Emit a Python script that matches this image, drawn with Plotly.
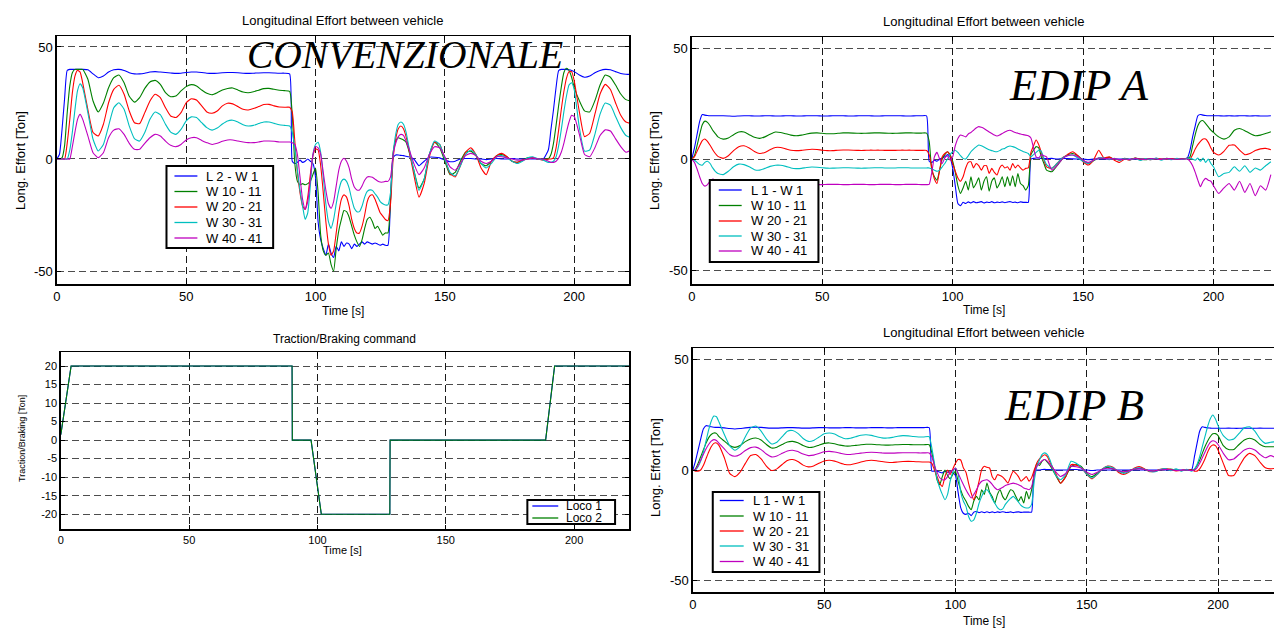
import sys
import plotly.graph_objects as go

# ---------------- time grid (s) shared by the effort plots ----------------
T = [0, 1, 2, 3, 4, 5, 6, 7, 8, 9, 10,
     12, 14, 16, 18, 20, 22, 24, 26, 28, 30, 32, 34, 36, 38, 40, 42, 44, 46, 48, 50,
     52, 54, 56, 58, 60, 62, 64, 66, 68, 70, 72, 74, 76, 78, 80, 82, 84, 86, 88, 90,
     91, 92, 93, 94, 95, 96, 97, 98, 99, 100, 101, 102, 103, 104, 105, 106, 107, 108, 109, 110,
     111, 112, 113, 114, 115, 116, 117, 118, 119, 120, 121, 122, 123, 124, 125, 126, 127, 128, 129, 130,
     131, 132, 133, 134, 135, 136,
     138, 140, 142, 144, 146, 148, 150, 152, 154, 156, 158, 160, 162, 164, 166, 168, 170, 172, 174, 176,
     178, 180, 182, 184, 186, 188, 190,
     191, 192, 193, 194, 195, 196, 197, 198, 199, 200,
     202, 204, 206, 208, 210, 212, 214, 216, 218, 220, 222]

# ---------------- CONVENZIONALE ----------------
conv_L2W1 = [0, 2, 13, 27, 39.5, 40, 40, 40, 40, 40, 40,
             39.8, 38, 36.3, 37, 38.8, 39.8, 40, 39.5, 38.5, 38,
             38, 38.3, 38.8, 39, 38.8, 38.6, 38.4, 38.2, 38.3, 38.6,
             38.8, 38.8, 38.6, 38.3, 38.2, 38.3, 38.5, 38.6, 38.6, 38.5,
             38.3, 38.2, 38.3, 38.4, 38.5, 38.5, 38.4, 38.3, 38.3, 38,
             -1, -2, -1.5, -0.5, -1.5, -1, 0, -1, -2, -8,
             -28, -36, -40, -43, -38, -42, -44, -39, -41, -37,
             -39, -37.5, -38, -40, -38, -39, -38, -37, -38, -37,
             -37.5, -38, -37.5, -38, -38.5, -38, -38.5, -38.5, -18, 0.5,
             1.8, 1.8, 1.6, 1.5, 1.2, 1,
             0, -3, -1, 0.8, 0.8, 0.5, -0.5, -1.2, -1, 0,
             0.2, 0.2, 0, 0, -0.3, 0, 0.2, 0, 0, 0.2,
             0, 0, 0.1, 0, 0, 0, 4,
             13, 22, 32, 39.5, 40, 40, 40, 39.8, 39.5, 39,
             37.5, 36.5, 37, 38.5, 39.5, 40, 39.8, 39, 38.2, 37.8, 37.8]
conv_W10 = [0, 0, 0.5, 6, 20.5, 32.5, 38.5, 40, 40, 40, 40,
            35.6, 25.9, 21, 25, 31.8, 36.3, 37.5, 34, 28, 25.4,
            27.4, 31.5, 34.4, 35.1, 33.3, 29.6, 27.8, 28.1, 30.4, 32.3,
            33.2, 32.6, 30.8, 29.3, 28.7, 29.6, 30.8, 31.5, 31.7, 30.8,
            29.9, 29.6, 30, 30.7, 31.4, 31.5, 31.1, 30.7, 30.5, 30.2,
            20, -2, -10, -11.5, -11, -11.5, -11, -10, -7, -4,
            -15, -34, -41, -43, -42, -47, -50, -40, -32, -27,
            -23, -23.5, -26, -30, -34, -37, -39, -36, -31, -27,
            -26, -28, -31, -30, -32, -34, -33, -33, -18, 3,
            8, 9.5, 9, 8.5, 7.5, 4,
            -5, -13, -9, 2, 7.5, 5, -1, -7, -6, -1,
            3, 3.5, 1.5, -2, -3, -1, 1.5, 2, 1, -1,
            -1.5, -0.5, 0.5, 0.5, 0, 0, 0,
            2, 7, 15, 24, 32, 38.5, 40.5, 39.5, 36.5, 32,
            26, 21.5, 21, 26, 33, 37.5, 36.5, 33, 29, 26.5, 25.8]
conv_W20 = [0, 0, 0, 0, 7, 17.5, 29.5, 37, 39.6, 38.8, 34,
            22, 11.8, 10.3, 15.5, 25.1, 31.1, 32.9, 28.9, 21.4, 16.2,
            15.8, 20.7, 25.9, 28.9, 27.4, 22.9, 19.2, 18.5, 20.7, 25.1,
            26.9, 26.3, 23.7, 21, 20.4, 21.4, 23.7, 24.9, 24.6, 23.4,
            22.2, 21.9, 22.5, 23.4, 24.3, 24.4, 23.7, 23.2, 23.1, 23.1,
            21, 8, -6, -15, -21, -22.5, -17, -7, 1.5, 4.5,
            4, -3, -15, -28, -38, -43, -41, -33, -24, -18,
            -16, -17, -21, -27, -31, -33, -33, -30, -25, -19,
            -16.5, -16, -18, -21, -24, -25.5, -27, -27.5, -20, 0,
            9, 13.5, 14.7, 13.5, 10, 5,
            -7, -17, -11, 1, 7.5, 6.5, 0, -6.5, -8, -3,
            3, 5, 2, -4, -7, -1, 1.5, 2.5, 1, -1,
            -1.5, -0.5, 0, 0.5, 0, -0.5, 0,
            0, 0.5, 5, 13, 22, 30, 36, 39, 39, 35,
            21, 10, 11.5, 20, 29, 33.3, 31, 25, 19.5, 16.5, 15.8]
conv_W30 = [0, 0, 0, 0, 0, 4, 12, 22, 30.5, 33.6, 31.8,
            20.7, 8.8, 3.6, 6.5, 14.7, 22.9, 25.1, 22.2, 14.7, 9.1,
            8, 11.8, 17.7, 21, 19.8, 15.5, 12, 11, 13.2, 17,
            18.8, 18.5, 16.2, 14, 12.9, 13.8, 15.6, 17, 17.3, 16.5,
            15.3, 14.7, 15, 15.8, 16.5, 16.5, 15.9, 15.3, 15, 14.7,
            12, 5, -5, -14, -21, -27, -24, -12, 2, 6.5,
            7.5, 3, -8, -20, -28, -31, -27, -20, -14, -10,
            -9, -10, -13, -18, -22, -23.5, -23.5, -21, -17, -14.5,
            -13.8, -14, -15.5, -17, -19, -20, -20.5, -20.5, -15, 2,
            11, 15.5, 16.5, 15.5, 12, 6,
            -5, -14, -9, 2, 8, 6.5, 0, -6, -7.5, -3,
            2, 4, 2, -2, -4, -2, 1, 1.5, 0.5, -1,
            -2, -1, 0.5, 1, 0, -0.5, -1.5,
            -1.5, -1, 1, 6, 13, 21, 28, 33, 34, 31,
            14, 3.5, 4, 11, 20, 25, 24, 19, 14, 10.5, 9.5]
conv_W40 = [0, 0, 0, 0, 0, 0, 5.5, 12, 17.7, 19.9, 17.7,
            10.3, 2.8, 0.6, 2.8, 9.5, 12.9, 13.5, 11, 7, 4.3,
            4.3, 7, 9.5, 11, 10.3, 8, 6.1, 5.5, 6.5, 8.5,
            9.5, 9.5, 8.3, 7.3, 6.5, 7, 7.9, 8.5, 8.5, 8,
            7.6, 7.3, 7.3, 7.6, 8, 8, 7.9, 7.6, 7.6, 7.6,
            7.3, 6.5, 2, -8, -18, -22.5, -19, -9, 2, 5.5,
            5, 2, -6, -14, -20, -22, -19, -12, -5, -1,
            0.3, -1, -4, -9, -12.5, -13.8, -13.8, -12, -9.5, -8,
            -7.9, -8.2, -9, -9.8, -10.3, -10.3, -10, -10, -8, 2,
            7, 10, 11, 10.5, 8, 5,
            -2, -7, -4, 2, 5.5, 5, 1, -3.5, -5, -2,
            1.5, 2.5, 1.5, -1, -2, -1, 1, 1, 0.5, 0,
            -0.5, -0.5, 0, 0.5, 0, 0, -1,
            -1.5, -1.5, -1, 0.5, 3, 7, 12, 16.5, 19.5, 19,
            11, 2, 1, 5, 10.5, 13, 12.5, 9, 5.5, 3, 4]

# ---------------- EDIP A ----------------
a_L1W1 = [0, 5, 11, 17, 20.1, 19.8, 19.6, 19.5, 19.5, 19.5, 19.5,
          19.5, 19.4, 19.3, 19.4, 19.5, 19.5, 19.4, 19.4, 19.5, 19.5,
          19.4, 19.4, 19.5, 19.5, 19.4, 19.4, 19.5, 19.5, 19.5, 19.4,
          19.4, 19.5, 19.5, 19.5, 19.4, 19.4, 19.5, 19.5, 19.5, 19.4,
          19.4, 19.5, 19.5, 19.5, 19.5, 19.4, 19.4, 19.5, 19.5, 19.5,
          -1, -1.5, -0.5, -1, 0, 0.5, 1, 2, 1, -4,
          -12, -20, -21, -19.5, -20, -19.3, -19.8, -19.2, -19.7, -19.5,
          -19.2, -19.8, -19.4, -19.6, -19.2, -19.7, -19.4, -19.6, -19.3, -19.7,
          -19.4, -19.2, -19.6, -19.4, -19.7, -19.3, -19.5, -19.5, -19.5, 0,
          0.3, 0.5, 0.5, 0.3, 0.3, 0.2,
          0.3, 0, 0.2, 0.2, 0.1, 0, 0, -0.3, 0, 0,
          0, 0, 0, 0, 0, 0, 0, 0, 0, 0,
          0, 0, 0, 0, 0, 0, 0.5,
          4, 10, 15, 19.5, 20.1, 19.8, 19.6, 19.5, 19.5, 19.5,
          19.5, 19.4, 19.5, 19.4, 19.5, 19.5, 19.4, 19.5, 19.4, 19.4, 19.5]
a_W10 = [0, 1.5, 6, 11, 15.5, 17.1, 16.5, 15, 13, 11.5, 10,
         9, 9.5, 11, 12.2, 12.2, 11, 9.8, 9.3, 10, 11.2,
         12.2, 12, 11.4, 10.8, 10.5, 10.8, 11.3, 11.7, 11.8, 11.6,
         11.4, 11.4, 11.6, 11.8, 11.8, 11.7, 11.6, 11.6, 11.7, 11.8,
         11.8, 11.7, 11.6, 11.6, 11.7, 11.8, 11.8, 11.7, 11.7, 11.7,
         8, -5, -8, -9.5, -5, 0, 2, 3.3, 2, -1,
         -6, -12, -15.5, -13, -10, -14, -8, -13, -11, -8.5,
         -14, -10, -8, -14.5, -10, -8.5, -13, -11, -8, -12.5,
         -8, -12, -7.5, -12.5, -6.5, -11, -12, -14, -12, 2,
         4, 5.6, 5, 1, -2, -5,
         -5.7, -3, 0, 1.8, 2.5, 1.5, -0.5, -2, -0.8, 0.5,
         0.3, 0.8, 0, -0.5, 0.3, -0.2, 0.4, 0, -0.3, 0.2,
         0, -0.2, 0.3, 0, -0.2, 0, 0.3,
         1, 6, 11, 15, 17, 17.3, 16, 14.5, 13, 12,
         10, 9, 10, 13, 13.8, 12.8, 11.5, 10.5, 10.8, 11.5, 12.3]
a_W20 = [0, 1, 3.5, 6, 8.3, 9, 8, 6.2, 4.2, 2.5, 1.2,
         0.3, 1.5, 3.8, 5.6, 6, 5, 3.4, 2.5, 3, 4.2,
         5.2, 5.2, 4.6, 4, 3.8, 3.9, 4.2, 4.4, 4.3, 4,
         3.8, 3.8, 4, 4.1, 4.1, 4, 3.9, 3.9, 4, 4,
         4, 3.9, 3.9, 3.9, 4, 4, 4, 3.9, 3.9, 3.9,
         2, -4, -9, -11, -5, 1, 2.5, 3.3, 1.5, -2,
         -5.5, -8.5, -10, -8, -4, -1.5, -1.2, -4, -2, -3,
         -5, -3, -3, -6.5, -4.2, -6, -7.2, -4, -2.7, -4,
         -3.5, -5, -2, -4, -2.7, -4, -5, -4.2, -4, 3,
         6, 8.6, 6.5, 3, -0.5, -3.5,
         -4.2, -2, 0.5, 2, 3.3, 1.5, -1.2, -2.7, -0.5, 4,
         0.5, 1, -0.5, -1.5, 0, -0.5, 0.5, -0.3, 0.2, -0.3,
         0.3, 0, -0.2, 0.2, 0, 0, 0.3,
         0, 2, 4.5, 6.5, 8, 9, 9, 7.5, 5, 3,
         1.8, 3.5, 6.2, 6.3, 4, 2, 2.5, 3.8, 4.6, 4.8, 4.2]
a_W30 = [0, -0.5, -1.5, -2.5, -2.8, -1.5, -1, -2, -4, -5.5, -6.5,
         -7, -5.5, -3.5, -2.3, -2.5, -3.5, -4.8, -5, -4.2, -3.3,
         -2.8, -2.8, -3.3, -4, -4.3, -4.2, -3.8, -3.6, -3.7, -3.9,
         -4.1, -4.1, -4, -3.9, -3.9, -4, -4.1, -4.1, -4, -3.9,
         -3.9, -4, -4, -4, -3.9, -3.9, -4, -4, -4, -4,
         -4, -4.5, -5, -5.5, -5, -3.5, -2, 0, 2, 3.3,
         4, 3, 1.5, 0.3, 0, 1.5, 3.3, 4.5, 5.5, 6.3,
         6, 5.4, 4.8, 4.2, 3.8, 3.4, 3.3, 3.8, 4.5, 4.8,
         5.5, 5.9, 5.6, 5.2, 4.5, 4, 3.4, 3, 2.5, 1,
         2, 3, 4, 3.5, 0, -2.5,
         -4.2, -2, 0.5, 1.5, 1.8, 0.5, -1, -2, -0.5, 0.5,
         0.5, -0.3, 0.3, -0.5, 0.2, -0.4, 0.3, -0.6, 0.2, -0.3,
         0.4, -0.5, 0.2, -0.3, 0.3, -0.2, 0.3,
         0.3, 0, -0.5, 0.5, -1, 0.5, -1.5, 0, -2, -3.5,
         -8, -6.5, -6, -3.5, -5.5, -3, -6, -4, -5, -3, -1.2]
a_W40 = [0, -1.5, -4.5, -8, -11, -12.2, -11.5, -10, -9, -9.5, -10.5,
         -11.5, -11.5, -11.2, -11, -11.2, -11.5, -11.7, -11.5, -11.3, -11.2,
         -11.3, -11.4, -11.5, -11.5, -11.4, -11.3, -11.3, -11.4, -11.5, -11.5,
         -11.4, -11.4, -11.4, -11.5, -11.5, -11.4, -11.4, -11.4, -11.5, -11.5,
         -11.4, -11.4, -11.4, -11.5, -11.5, -11.4, -11.4, -11.4, -11.5, -11.5,
         -11.4, -6, 1, 3, 0, -2, 0.5, 1.5, -0.5, 1,
         6, 9.3, 10.8, 10.5, 10, 11.3, 12, 13, 14, 14.6,
         14.3, 13.8, 13, 12.2, 11.5, 10.8, 10.4, 10.8, 11.5, 12.2,
         12.8, 13, 12.5, 12, 11.6, 11.3, 11, 10.8, 10.5, 9.5,
         5, 1, 0.5, 2, 1.5, 1,
         -5, -3, 0, 1.5, 1.8, 1, -0.5, -1.5, -0.5, 0.5,
         0.3, 0, 0.2, -0.3, 0, -0.2, 0.2, 0, -0.2, 0.2,
         0, -0.2, 0.2, 0, -0.1, 0, 0,
         -1, -3, -6, -9.5, -12.5, -10, -8.7, -9.5, -10, -12,
         -15.5, -13, -11, -14, -10, -15, -11, -16.5, -12, -14, -7]

# ---------------- EDIP B ----------------
b_L1W1 = [0, 4, 9, 14, 18.5, 20, 19.8, 19.5, 19.3, 19.2, 19.2,
          19, 18.7, 18.5, 18.7, 19, 19.2, 19.3, 19.2, 19, 18.9,
          18.9, 19, 19.1, 19.1, 19, 18.9, 18.9, 19, 19.1, 19.1,
          19, 19, 19, 19.1, 19.1, 19, 19, 19, 19.1, 19.1,
          19.1, 19, 19, 19.1, 19.1, 19.1, 19.1, 19.1, 19.1, 19.1,
          -0.5, -0.5, -0.5, -1, -1.3, -0.5, -1, -0.8, -1.2, -2.5,
          -10, -17, -19.5, -20, -19.5, -20.6, -19, -18.7, -19.2, -18.8,
          -19.2, -18.8, -19.2, -18.9, -19.2, -18.9, -19.1, -18.8, -19.1, -19.1,
          -18.9, -19.2, -19, -18.9, -19.1, -19, -19, -19, -19, -1,
          0, 0, 0.2, 0.3, 0.2, 0.2,
          0, 0, 0, 0.2, 0.2, 0, 0, -0.2, 0, 0,
          0, 0, 0, 0, 0, 0, 0, 0, 0, 0,
          0, 0, 0, 0, 0, 0, 0.3,
          6, 12, 17.5, 19.5, 19.2, 19, 18.9, 18.8, 18.8, 18.8,
          18.8, 18.9, 18.8, 18.8, 18.9, 18.8, 18.8, 18.9, 18.8, 18.8, 18.8]
b_W10 = [0, 0.5, 3, 6, 9, 12, 14.5, 16, 16.7, 16.5, 15,
         13, 11, 10.2, 11, 12.8, 14, 14.4, 13.5, 11.5, 9.9,
         10.3, 11.5, 12.6, 12.9, 12.3, 11, 10.2, 10.4, 11.2, 12,
         12.2, 11.8, 11.2, 10.8, 10.8, 11.1, 11.4, 11.6, 11.6, 11.4,
         11.3, 11.2, 11.3, 11.4, 11.5, 11.5, 11.4, 11.4, 11.4, 11.4,
         8, 2, -4.4, -6.6, -3, 0, -2.5, -4, -2, -0.6,
         -5, -9, -12, -14, -16.4, -17.9, -14, -11.9, -13.5, -8.9,
         -11, -5.9, -10, -12, -14.9, -11, -8.9, -12, -13.4, -11,
         -8.9, -9.5, -12, -14.1, -12, -14.9, -9.6, -13, -9, -2,
         3, 2, 4, 4.7, 3.5, 2,
         -2, -5.9, -3, 1.5, 2.5, 1.5, -1.5, -3, -1.5, 0.5,
         1.2, 0.5, -0.5, -1, -0.3, 0.3, 0.8, 0.3, -0.4, -0.6,
         0, 0.2, 0.4, 0, -0.3, 0, 0,
         0.3, 2, 4.5, 7.5, 10.5, 13, 15, 16.3, 16.4, 15.5,
         11, 9.2, 9.2, 11.5, 13.5, 14.3, 13.5, 11.5, 10.5, 10.5, 10.5]
b_W20 = [0, -0.5, -0.5, 0, 2, 5, 8, 10.5, 12, 12.2, 11,
         5.5, -1.5, -3, -1, 3, 6.5, 7, 5, 1.8, -0.2,
         0.5, 2.5, 4.3, 4.7, 3.8, 2.2, 1.4, 1.8, 3, 4.1,
         4.4, 4, 3.2, 2.5, 2.4, 2.9, 3.6, 4.2, 4.4, 4.2,
         3.8, 3.5, 3.4, 3.6, 3.8, 3.9, 3.8, 3.7, 3.6, 3.6,
         3, 0, -2.9, -6, -7.4, -3, 0, -2, 0.5, 3,
         4.7, 4.5, 1, -1, -6, -10.5, -13.4, -10, -5, 0.2,
         1.7, 1.2, 0.9, -3, -4.4, -2.1, -2.5, -3.2, -4.5, -5.9,
         -3, -0.6, -1.5, -3, -5.1, -4, -2.9, -5, -3.5, 0,
         3.2, 5, 6.2, 6.9, 6, 3.5,
         -1, -6, -3, 2.4, 2.2, 1, -2, -4, -2, 0.5,
         1.8, 1.2, -1, -2, -1, 0.8, 1.5, 0.5, -0.8, -0.5,
         0.3, 0.6, 0.2, -0.4, -0.2, 0.2, 0,
         -0.5, -0.5, 0.5, 2.5, 5, 8, 10.3, 11.3, 11, 9,
         3, -2.5, -2.5, 1.5, 5.5, 7.5, 6.5, 3.5, 1, 0.5, 0.8]
b_W30 = [0, 0, 1.5, 4, 8, 13, 18, 22, 24.3, 24, 21.5,
         16, 11, 8.9, 10.5, 15, 19, 19.8, 17.5, 14, 11.7,
         12.5, 15, 17.5, 17.8, 16.5, 14.2, 12.9, 13.3, 14.8, 16.3,
         16.7, 16.2, 15, 14.1, 14.3, 15, 15.7, 15.9, 15.6, 15,
         14.5, 14.4, 14.7, 15.2, 15.5, 15.4, 15.1, 14.9, 14.9, 15,
         10, 3, -4, -8, -11, -13.4, -11, -5, -1, 0.9,
         -1.5, -10, -14, -16.4, -21, -23.1, -22.5, -19.4, -15, -11.9,
         -9.5, -8.9, -10.5, -13, -15, -17, -17.9, -17.5, -15.5, -14,
         -12.8, -11.9, -13, -14.5, -16, -16.8, -17.1, -17, -15.5, -5,
         1.5, 4.5, 7, 7.7, 6.9, 4.5,
         -2, -4.4, -2, 3.9, 3, 1, -2, -3.6, -2, 0.5,
         1.7, 1, -0.5, -1.5, -0.8, 0.5, 1, 0.3, -0.6, -0.8,
         0.2, 0.6, -0.3, 0.5, -0.5, 0.3, -0.5,
         0.5, 2.5, 6, 10.5, 15, 19.5, 23, 24.8, 23, 20,
         15.5, 13.5, 14, 16.5, 19, 19.5, 17.5, 14, 12, 12.5, 12.8]
b_W40 = [0, 0.3, 2, 4.5, 7, 9.5, 11.5, 13, 13.7, 13.3, 12,
         9.5, 7, 6.2, 7, 8.8, 10.1, 10.3, 9.2, 7.2, 5.9,
         6.3, 7.5, 8.6, 8.9, 8.3, 7.2, 6.5, 6.7, 7.4, 8.2,
         8.4, 8.1, 7.6, 7.1, 7, 7.3, 7.6, 7.9, 8, 7.9,
         7.7, 7.6, 7.6, 7.7, 7.8, 7.8, 7.8, 7.7, 7.7, 7.7,
         6, 2, -1, -3.5, -4.4, -4.4, -3, -1, 0, 0.9,
         -1.5, -4, -6.5, -8.9, -11, -12.6, -11, -8.9, -6.5, -5.1,
         -4.6, -4.4, -5.2, -6.5, -8, -8.9, -8.5, -7.8, -7, -6.6,
         -6.2, -5.9, -6.2, -6.6, -7.2, -8.1, -8.5, -8.9, -7.5, -2,
         1.7, 3, 4.2, 4.7, 4, 2.5,
         -0.5, -2.9, -1.5, 1.7, 1.5, 0.8, -1, -2, -1, 0.3,
         0.8, 0.5, -0.3, -0.8, -0.4, 0.3, 0.6, 0.2, -0.3, -0.4,
         0, 0.3, 0.1, -0.2, -0.1, 0, -0.2,
         0, 1, 3, 5.5, 8, 10.5, 12.5, 13.2, 12.8, 11.5,
         7.5, 4.6, 5, 7, 9, 9.8, 9, 7, 5.5, 6.5, 5.5]

# ---------------- Traction / braking command ----------------
cmd_t = [0, 4, 90.1, 90.2, 97.5, 101.5, 128.2, 128.3, 188.9, 192.4, 221.4]
loco1 = [1.5, 20, 20, 0, 0, -20, -20, 0, 0, 20, 20]
loco2 = [1.5, 20, 20, 0, 0, -20, -20, 0, 0, 20, 20]

conv_names = ["L 2 - W 1", "W 10 - 11", "W 20 - 21", "W 30 - 31", "W 40 - 41"]
edip_names = ["L 1 - W 1", "W 10 - 11", "W 20 - 21", "W 30 - 31", "W 40 - 41"]
cmd_names = ["Loco 1", "Loco 2"]
COLORS = ["#0000ff", "#008000", "#ff0000", "#00bfbf", "#bf00bf"]

SANS = "Liberation Sans, Arial, sans-serif"
SERIF = "Liberation Serif, Times New Roman, serif"
W, H = 1274, 630


def fx(p):
    return p / W


def fy(p):
    return 1 - p / H


fig = go.Figure()


def add_group(series, names, xa, ya):
    for s, name, col in zip(series, names, COLORS):
        n = min(len(T), len(s))
        if len(s) != len(T):
            print("length mismatch", name, xa, len(s), len(T), file=sys.stderr)
        fig.add_trace(go.Scatter(x=T[:n], y=s[:n], mode="lines", name=name, showlegend=False,
                                 line=dict(color=col, width=1.1, shape="spline", smoothing=0.5),
                                 xaxis=xa, yaxis=ya))


add_group([conv_L2W1, conv_W10, conv_W20, conv_W30, conv_W40], conv_names, "x", "y")
add_group([a_L1W1, a_W10, a_W20, a_W30, a_W40], edip_names, "x2", "y2")
add_group([b_L1W1, b_W10, b_W20, b_W30, b_W40], edip_names, "x4", "y4")

fig.add_trace(go.Scatter(x=cmd_t, y=loco1, mode="lines", name="Loco 1", showlegend=False,
                         line=dict(color="#0000ff", width=1.1), xaxis="x3", yaxis="y3"))
fig.add_trace(go.Scatter(x=cmd_t, y=loco2, mode="lines", name="Loco 2", showlegend=False,
                         line=dict(color="#008000", width=1.1), xaxis="x3", yaxis="y3"))

XT = [0, 50, 100, 150, 200]


def xax(dom, rng, anchor, fs=13):
    return dict(domain=dom, range=rng, anchor=anchor, tickvals=XT, ticktext=[str(v) for v in XT],
                showline=True, linecolor="black", linewidth=1.5, mirror="ticks",
                ticks="inside", ticklen=4, tickcolor="black",
                showgrid=True, gridcolor="#1a1a1a", gridwidth=1, griddash="7px,4px",
                zeroline=False, tickfont=dict(size=fs, color="black", family=SANS), fixedrange=True)


def yax(dom, rng, anchor, vals, mirror="ticks", fs=13):
    return dict(domain=dom, range=rng, anchor=anchor, tickvals=vals, ticktext=[str(v) for v in vals],
                showline=True, linecolor="black", linewidth=1.5, mirror=mirror,
                ticks="inside", ticklen=4, tickcolor="black",
                showgrid=True, gridcolor="#4d4d4d", gridwidth=1, griddash="7px,4px",
                zeroline=False, tickfont=dict(size=fs, color="black", family=SANS), fixedrange=True)


YE = [-50, 0, 50]
YC = [-20, -15, -10, -5, 0, 5, 10, 15, 20]

fig.update_layout(
    width=W, height=H, margin=dict(l=0, r=0, t=0, b=0),
    paper_bgcolor="white", plot_bgcolor="white",
    font=dict(family=SANS, color="black"), showlegend=False,
    xaxis=xax([fx(53), fx(627)], [0, 221.2], "y"),
    yaxis=yax([fy(284), fy(36)], [-55.8, 54.9], "x", YE),
    xaxis2=xax([fx(690), 1.0], [0, 223.2], "y2"),
    yaxis2=yax([fy(284), fy(37)], [-56.3, 55], "x2", YE, mirror=False),
    xaxis3=xax([fx(57), fx(627)], [0, 221.4], "y3", fs=11),
    yaxis3=yax([fy(529), fy(352)], [-24, 23.8], "x3", YC, fs=11),
    xaxis4=xax([fx(691), 1.0], [0, 221.3], "y4"),
    yaxis4=yax([fy(592), fy(348)], [-55, 55], "x4", YE, mirror=False),
)

ann = []
shapes = []


def text(t, x, y, size=13, angle=0, family=SANS, xanchor="center"):
    ann.append(dict(text=t, x=fx(x), y=fy(y), xref="paper", yref="paper", showarrow=False,
                    xanchor=xanchor, yanchor="middle", textangle=angle,
                    font=dict(size=size, family=family, color="black")))


def legend_box(box, line_x, text_x, rows, names, colors, size=13):
    x0, y0, x1, y1 = box
    shapes.append(dict(type="rect", xref="paper", yref="paper", x0=fx(x0), x1=fx(x1),
                       y0=fy(y1), y1=fy(y0), line=dict(color="black", width=2),
                       fillcolor="white", layer="above"))
    for r, name, col in zip(rows, names, colors):
        shapes.append(dict(type="line", xref="paper", yref="paper", x0=fx(line_x[0]), x1=fx(line_x[1]),
                           y0=fy(r), y1=fy(r), line=dict(color=col, width=1.3), layer="above"))
        text(name, text_x, r, size=size, xanchor="left")


legend_box((163, 166, 270, 248), (171, 194), 201, [176, 191.5, 207, 222.5, 238], conv_names, COLORS)
legend_box((708, 180, 817, 262), (717, 740), 747, [190, 205.5, 221, 236, 251], edip_names, COLORS)
legend_box((711, 492, 818, 572), (718, 742), 749, [500.5, 516, 531, 546, 561.5], edip_names, COLORS)
legend_box((525, 500, 613, 524), (530, 556), 562, [506, 518], cmd_names, ["#0000ff", "#008000"], size=12)

text("Longitudinal Effort between vehicle", 340, 20)
text("Longitudinal Effort between vehicle", 983, 22)
text("Traction/Braking command", 342, 339, size=12)
text("Longitudinal Effort between vehicle", 983, 332)
text("Long. Effort [Ton]", 16, 160, angle=-90)
text("Long. Effort [Ton]", 652, 160, angle=-90)
text("Long. Effort [Ton]", 653, 467, angle=-90)
text("Traction/Braking [Ton]", 18, 438, size=9, angle=-90)
text("Time [s]", 340, 311, size=12)
text("Time [s]", 983, 310, size=12)
text("Time [s]", 340, 550, size=11)
text("Time [s]", 983, 621, size=12)
text("<i>CONVENZIONALE</i>", 402, 55, size=39.5, family=SERIF)
text("<i>EDIP A</i>", 1078, 85, size=44.5, family=SERIF)
text("<i>EDIP B</i>", 1073, 405, size=44.5, family=SERIF)

fig.update_layout(annotations=ann, shapes=shapes)
fig.write_html("out.html",
               config={"displayModeBar": False, "staticPlot": True},
               post_script="document.body.style.margin='0';document.body.style.padding='0';"
                           "document.body.style.overflow='hidden';"
                           "document.documentElement.style.overflow='hidden';")
